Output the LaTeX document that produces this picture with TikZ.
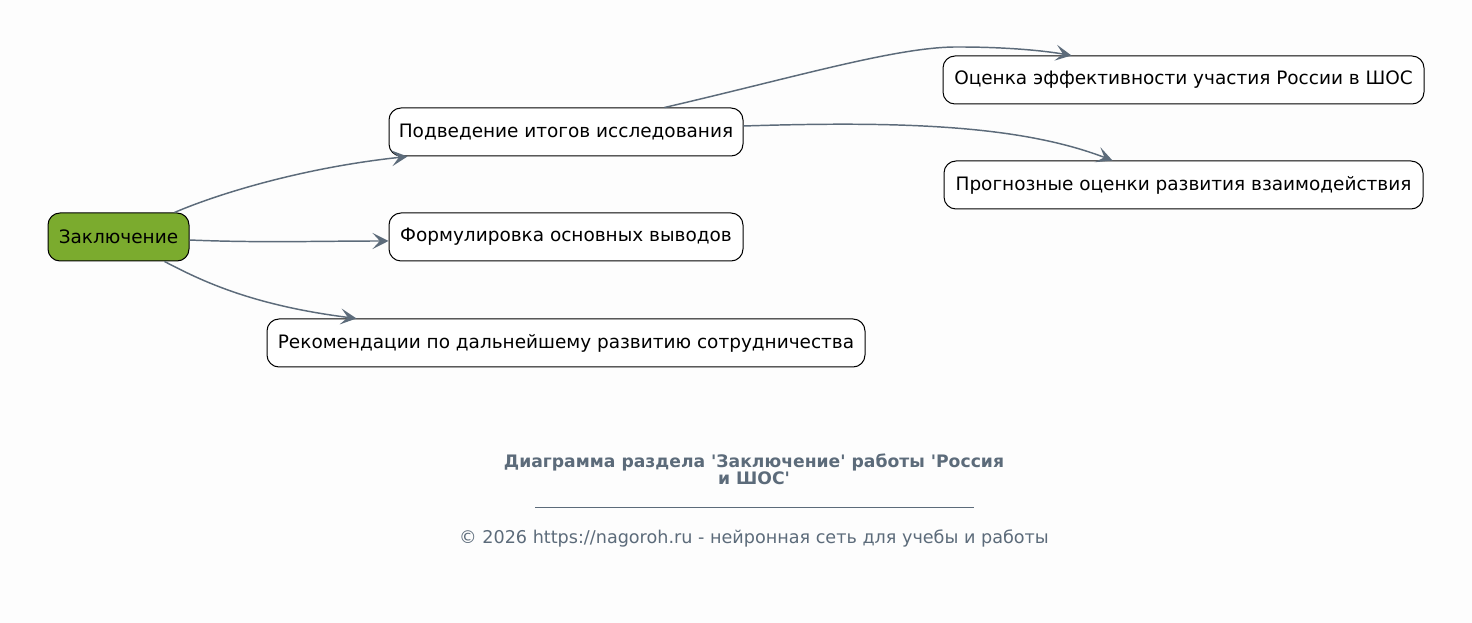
\documentclass[tikz,border=0pt]{standalone}
\usepackage{fontspec}
\setmainfont{DejaVu Sans}
\usetikzlibrary{arrows.meta,calc}
\definecolor{bg}{HTML}{FDFDFD}
\definecolor{edge}{HTML}{5C6B7A}
\definecolor{leaf}{HTML}{7BAB2E}
\tikzset{
  box/.style={draw=black, line width=0.75pt, rounded corners=9pt, fill=white, minimum height=36pt, inner sep=0pt, font=\fontsize{13.85}{15}\selectfont, text=black},
  conn/.style={draw=edge, line width=1.1pt, -{Stealth[length=12pt,width=12pt,inset=5.5pt]}},
}
\begin{document}
\begin{tikzpicture}[x=0.75pt,y=-0.75pt]
\useasboundingbox[fill=bg] (0,0) rectangle (1472,623);
\node[box, fill=leaf, minimum width=105.75pt] (zak) at (118.5,237) {Заключение};
\node[box, minimum width=265.5pt] (podv) at (566,132) {Подведение итогов исследования};
\node[box, minimum width=265.5pt] (form) at (566,237) {Формулировка основных выводов};
\node[box, minimum width=448.5pt] (rek) at (566,343) {Рекомендации по дальнейшему развитию сотрудничества};
\node[box, minimum width=360.75pt] (ots) at (1183.5,80) {Оценка эффективности участия России в ШОС};
\node[box, minimum width=359.25pt] (prog) at (1183.5,185) {Прогнозные оценки развития взаимодействия};

\draw[conn] ($(zak.north west)+(127,0)$) .. controls (215,195) and (300,168) .. ($(podv.south west)+(19,0)$);
\draw[conn] ($(zak.east)+(0,3)$) .. controls (260,243) and (320,241) .. ($(form.west)+(0,4)$);
\draw[conn] ($(zak.south west)+(117,0)$) .. controls (200,280) and (250,305) .. ($(rek.north west)+(90,0)$);
\draw[conn] ($(podv.north west)+(276,0)$) .. controls (800,76) and (900,46) .. (960,47) .. controls (1000,47) and (1040,50) .. ($(ots.north west)+(129,0)$);
\draw[conn] ($(podv.east)+(0,-6)$) .. controls (900,121) and (1020,125) .. ($(prog.north west)+(169,0)$);

\node[font=\bfseries\fontsize{12.9}{12.6}\selectfont, text=edge, align=center] (title) at (754,469) {Диаграмма раздела \textquotesingle Заключение\textquotesingle{} работы \textquotesingle Россия\\и ШОС\textquotesingle};
\coordinate (l1) at (535,507);
\coordinate (l2) at (974,507);
\draw[edge, line width=0.5pt] (l1) -- (l2);
\node[font=\fontsize{13.2}{15}\selectfont, text=edge] (foot) at (754,538) {© 2026 https://nagoroh.ru - нейронная сеть для учебы и работы};
\end{tikzpicture}
\end{document}
